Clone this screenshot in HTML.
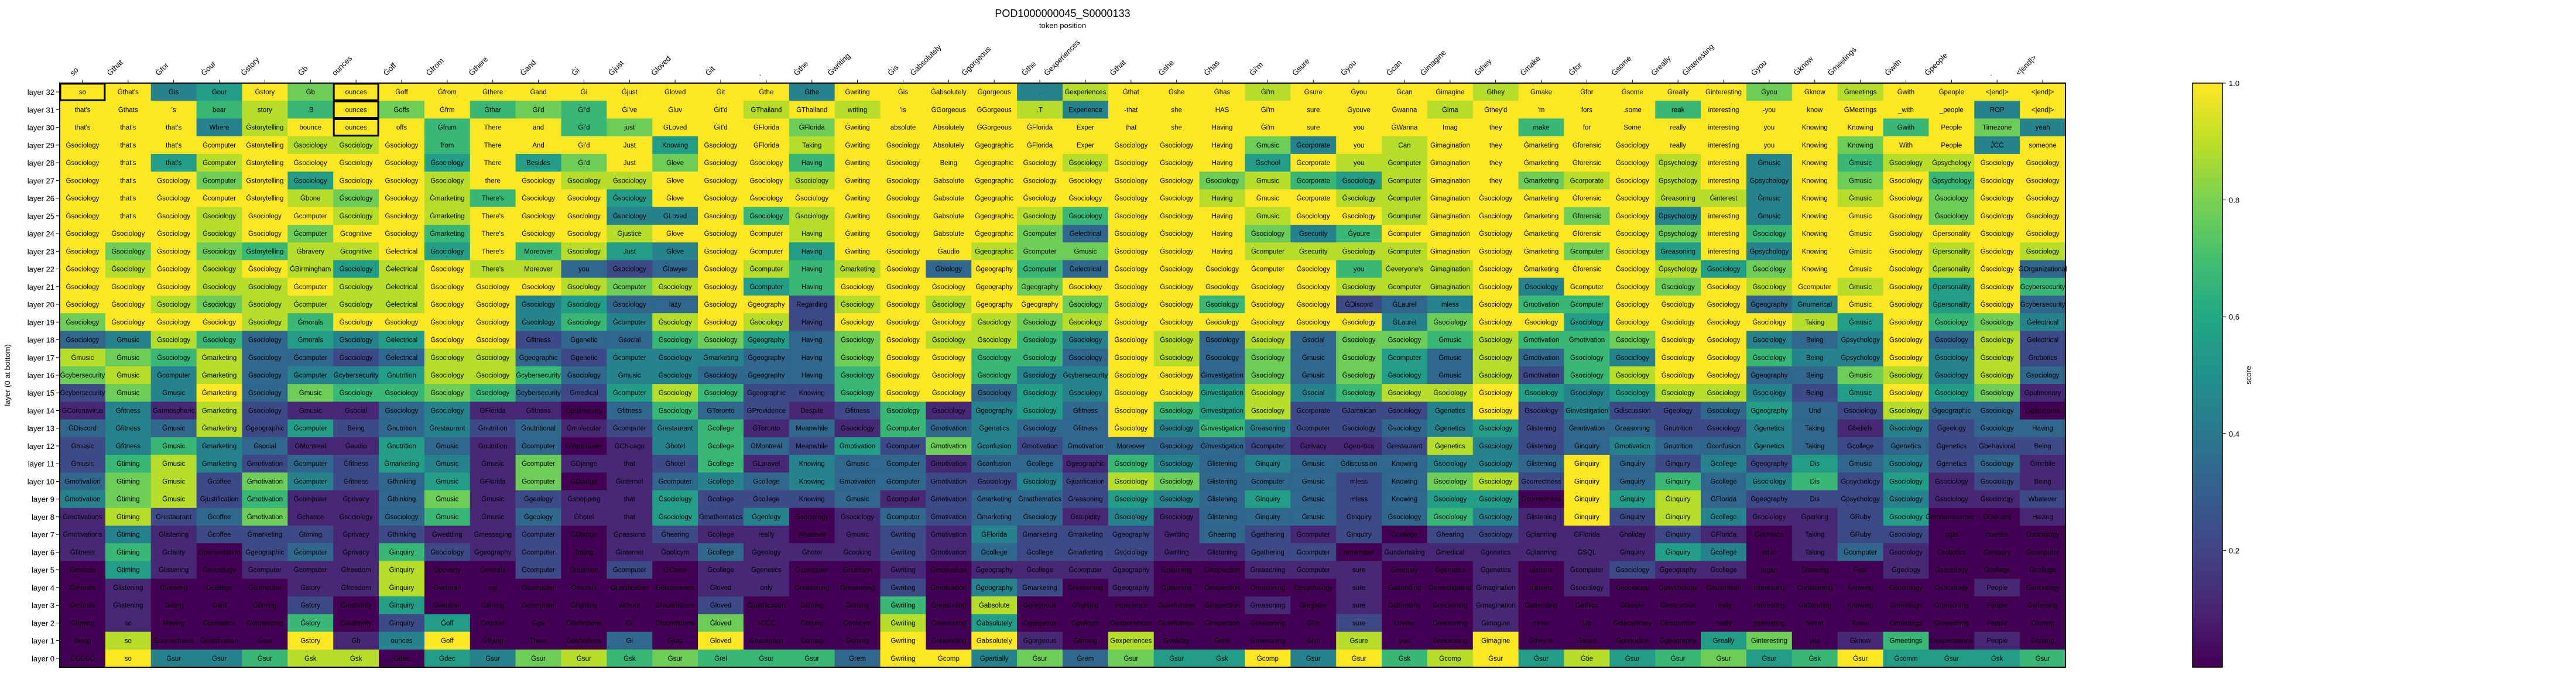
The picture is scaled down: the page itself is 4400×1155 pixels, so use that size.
<!DOCTYPE html>
<html><head><meta charset="utf-8"><title>POD1000000045_S0000133</title>
<style>
html,body{margin:0;padding:0;background:#fff;}
svg{display:block;font-family:"Liberation Sans","DejaVu Sans",sans-serif;}
</style></head>
<body>
<svg id="chart" xmlns="http://www.w3.org/2000/svg" width="4400" height="1155" viewBox="0 0 4400 1155">
<text x="1815" y="29" font-size="18" text-anchor="middle">POD1000000045_S0000133</text>
<text x="1815" y="48" font-size="13" text-anchor="middle">token position</text>
<text transform="translate(17,641) rotate(-90)" font-size="13" text-anchor="middle">layer (0 at bottom)</text>
<g id="cells"></g>
<g id="xticks"></g>
<g id="yticks"></g>
<g id="cbar"></g>
</svg>
<script>
const S = "Ġsociology";
const tokens = ["so","Ġthat","Ġfor","Ġour","Ġstory","Ġb","ounces","Ġoff","Ġfrom","Ġthere","Ġand","Ġi","Ġjust","Ġloved","Ġit",".","Ġthe","Ġwriting","Ġis","Ġabsolutely","Ġgorgeous","Ġthe","Ġexperiences","Ġthat","Ġshe","Ġhas","Ġi'm","Ġsure","Ġyou","Ġcan","Ġimagine","Ġthey","Ġmake","Ġfor","Ġsome","Ġreally","Ġinteresting","Ġyou","Ġknow","Ġmeetings","Ġwith","Ġpeople",".","<|end|>"];
const layerLabels = ["layer 32","layer 31","layer 30","layer 29","layer 28","layer 27","layer 26","layer 25","layer 24","layer 23","layer 22","layer 21","layer 20","layer 19","layer 18","layer 17","layer 16","layer 15","layer 14","layer 13","layer 12","layer 11","layer 10","layer 9","layer 8","layer 7","layer 6","layer 5","layer 4","layer 3","layer 2","layer 1","layer 0"];
const cbTicks = [0.2,0.4,0.6,0.8,1.0];
// score levels 0..9 (score = level/9), rows from layer 32 down to layer 0
const scoreLevels = [
[9,9,4,5,9,7,9,9,9,9,9,9,9,9,9,9,4,9,9,9,9,4,8,9,9,9,8,9,9,9,9,8,9,9,9,9,9,7,9,8,9,9,9,9],
[9,9,9,6,8,6,9,7,9,6,7,6,9,9,9,8,9,8,9,9,9,8,4,9,9,9,9,9,9,9,8,9,9,9,9,6,9,9,9,9,9,9,4,9],
[9,9,9,4,8,9,9,9,6,9,9,6,7,9,9,9,7,9,9,9,9,9,9,9,9,9,9,9,9,9,9,9,6,9,9,9,9,9,9,9,6,9,7,4],
[9,9,9,9,9,8,8,9,6,9,9,9,9,5,9,9,8,9,9,9,9,9,9,9,9,9,7,4,9,8,9,9,9,9,9,9,9,9,9,7,9,9,4,9],
[9,9,5,8,9,9,9,9,5,9,5,7,9,7,9,9,6,9,9,9,9,9,8,9,9,9,5,9,8,8,9,9,9,9,9,8,9,4,9,6,8,8,9,9],
[9,9,9,7,9,5,9,9,8,9,9,8,8,9,9,9,8,9,9,9,9,9,9,9,9,7,8,6,5,8,9,9,7,8,9,8,9,4,9,7,9,6,9,9],
[9,9,9,9,9,8,7,9,8,6,9,9,5,9,9,9,9,9,9,9,9,9,9,9,9,8,9,9,8,8,9,9,9,9,9,8,8,4,9,8,9,7,9,9],
[9,9,9,8,9,9,8,9,8,9,9,9,4,4,9,6,8,9,9,9,9,8,6,9,9,9,8,9,9,8,9,9,9,7,9,4,9,4,9,9,9,7,9,9],
[9,9,9,8,9,7,9,9,6,9,9,9,8,9,9,9,8,9,9,9,9,7,3,9,9,9,7,4,6,9,9,9,9,9,9,7,9,6,9,9,9,9,9,9],
[9,7,9,7,6,8,8,9,5,9,6,8,5,4,9,9,5,9,9,9,8,7,7,9,9,9,8,8,8,8,9,9,9,7,9,5,9,4,9,9,9,8,9,8],
[9,8,9,8,9,8,5,8,9,8,8,3,2,3,9,8,6,8,9,3,9,6,3,9,9,9,9,9,6,8,8,9,9,9,9,8,5,7,9,9,9,8,9,3],
[9,9,9,8,8,9,8,8,9,9,9,8,7,8,9,5,6,9,9,9,9,7,9,9,9,9,9,9,8,8,8,9,4,9,9,7,9,8,9,8,9,5,9,6],
[9,9,8,7,8,8,8,8,9,9,4,5,3,3,9,9,2,8,9,8,9,9,7,9,9,6,9,9,2,3,4,9,6,6,9,9,9,3,4,9,9,5,9,3],
[7,9,9,9,8,6,9,9,9,9,4,6,4,8,9,8,2,9,9,9,8,7,8,9,9,9,9,9,9,4,7,9,9,5,9,9,9,9,8,5,9,6,7,4],
[3,4,8,6,3,5,4,5,9,9,2,3,3,6,7,5,3,7,9,8,8,6,4,9,8,3,8,3,7,7,6,8,6,6,7,9,9,4,3,4,9,3,8,2],
[8,7,6,8,3,3,2,3,8,8,3,2,4,4,4,3,3,7,9,9,6,6,3,9,8,3,7,3,7,5,3,8,3,6,4,9,9,6,4,4,9,4,8,2],
[7,8,4,8,3,4,4,5,8,8,6,3,4,4,3,3,3,6,9,9,6,4,4,9,9,3,7,3,7,5,3,8,2,6,8,9,9,3,3,7,8,4,8,3],
[2,7,4,9,3,7,6,6,7,6,3,2,5,8,6,2,2,6,9,9,3,5,4,9,9,5,8,4,6,8,8,9,5,4,5,8,8,4,2,5,9,5,7,1],
[1,4,1,8,2,1,1,3,4,1,1,0,3,6,3,2,1,2,6,1,4,5,3,9,6,5,8,2,2,2,4,9,2,4,2,2,3,5,3,2,8,3,3,0],
[3,4,3,8,2,5,2,3,4,2,3,1,2,4,6,1,3,1,6,3,4,3,3,9,4,6,4,2,2,3,4,5,2,3,3,2,2,4,3,1,4,2,3,3],
[2,4,6,4,3,1,1,5,3,1,3,0,1,4,6,3,2,5,2,7,4,2,3,3,3,3,2,1,1,2,8,4,2,3,4,3,3,4,3,2,3,2,2,2],
[2,6,8,4,2,3,2,5,4,1,7,1,1,2,6,1,4,3,3,1,3,3,1,6,4,3,4,3,3,3,4,4,3,9,3,2,4,2,5,3,4,2,3,1],
[3,7,8,2,7,4,2,3,5,1,7,0,1,3,4,3,4,3,3,2,2,4,2,8,7,3,3,3,2,3,7,8,2,9,3,6,3,4,6,2,5,1,2,1],
[4,7,8,2,6,1,1,3,7,1,2,1,1,5,2,2,2,3,1,2,3,3,2,5,4,3,5,3,2,3,5,5,0,9,5,8,3,2,2,2,4,1,1,2],
[1,8,2,3,7,1,1,3,6,1,3,1,1,5,2,4,0,1,3,2,3,3,1,4,1,3,3,3,2,3,6,4,1,9,2,8,4,1,1,2,5,0,0,1],
[1,4,1,2,2,2,1,2,1,1,2,0,1,2,1,1,0,1,2,1,4,2,2,2,1,3,2,1,2,0,2,2,1,1,1,2,1,0,1,2,2,0,0,0],
[1,6,1,0,2,3,1,6,2,1,2,0,1,1,3,1,1,1,2,1,3,2,2,2,1,1,2,2,0,1,1,1,1,1,1,5,4,0,1,3,1,0,0,0],
[0,5,1,0,1,1,1,8,0,0,2,0,2,0,1,1,0,0,1,0,1,1,1,1,0,0,1,1,1,0,0,1,0,1,2,1,1,0,0,0,1,0,0,0],
[0,1,0,0,0,1,1,8,0,0,0,0,0,0,1,1,0,0,2,0,4,2,0,1,0,0,0,0,1,0,0,1,0,1,0,0,0,0,0,0,0,0,1,0],
[0,1,0,0,0,2,0,5,0,0,0,0,0,0,2,0,0,0,6,0,8,0,0,0,0,0,1,0,1,0,0,1,0,0,0,0,0,0,0,0,0,0,0,0],
[0,1,0,0,0,6,0,2,5,0,0,0,0,0,7,0,0,0,8,0,5,0,0,0,0,0,0,0,2,0,0,1,0,0,0,0,0,0,0,0,0,0,0,0],
[0,8,0,0,0,9,1,4,9,0,0,0,3,0,9,0,0,0,9,0,9,1,0,8,0,0,0,0,8,0,0,9,0,0,0,0,5,7,0,1,6,0,1,0],
[0,9,4,4,6,8,8,0,5,4,7,8,6,7,6,6,6,3,9,9,4,7,3,7,5,5,9,4,9,6,8,9,5,8,5,6,7,5,6,9,5,5,5,6]
];
const cellTexts = [
["so","Ġthat's","Ġis","Ġour","Ġstory","Ġb","ounces","Ġoff","Ġfrom","Ġthere","Ġand","Ġi","Ġjust","Ġloved","Ġit","Ġthe","Ġthe","Ġwriting","Ġis","Ġabsolutely","Ġgorgeous",".","Ġexperiences","Ġthat","Ġshe","Ġhas","Ġi'm","Ġsure","Ġyou","Ġcan","Ġimagine","Ġthey","Ġmake","Ġfor","Ġsome","Ġreally","Ġinteresting","Ġyou","Ġknow","Ġmeetings","Ġwith","Ġpeople","<|end|>","<|end|>"],
["that's","Ġthats","'s","bear","story",".B","ounces","Ġoffs","Ġfrm","Ġthar","Ġi'd","Ġi'd","Ġi've","Ġluv","Ġit'd","ĠThailand","ĠThailand","writing","'is","ĠGorgeous","ĠGorgeous",".T","Experience","-that","she","HAS","Ġi'm","sure","Ġyouve","Ġwanna","Ġima","Ġthey'd","'m","fors",".some","reak","interesting","-you","know","ĠMeetings","_with","_people","ROP","<|end|>"],
["that's","that's","that's","Where","Ġstorytelling","bounce","ounces","offs","Ġfrum","There","and","Ġi'd","just","ĠLoved","Ġit'd","ĠFlorida","ĠFlorida","Ġwriting","absolute","Absolutely","ĠGorgeous","ĠFlorida","Exper","that","she","Having","Ġi'm","sure","you","ĠWanna","Imag","they","make","for","Some","really","interesting","you","Knowing","Knowing","Ġwith","People","Timezone","yeah"],
[S,"that's","that's","Ġcomputer","Ġstorytelling",S,S,S,"from","There","And","Ġi'd","Just","Knowing",S,"ĠFlorida","Taking","Ġwriting",S,"Absolutely","Ġgeographic","ĠFlorida","Exper",S,S,"Having","Ġmusic","Ġcorporate","you","Can","Ġimagination","they","Ġmarketing","Ġforensic",S,"really","interesting","you","Knowing","Knowing","With","People","ĴĊĊ","someone"],
[S,"that's","that's","Ġcomputer","Ġstorytelling",S,S,S,S,"There","Besides","Ġi'd","Just","Ġlove",S,S,"Having","Ġwriting",S,"Being","Ġgeographic",S,S,S,S,"Having","Ġschool","Ġcorporate","you","Ġcomputer","Ġimagination","they","Ġmarketing","Ġforensic",S,"Ġpsychology","interesting","Ġmusic","Knowing","Ġmusic",S,"Ġpsychology",S,S],
[S,"that's",S,"Ġcomputer","Ġstorytelling",S,S,S,S,"there",S,S,S,"Ġlove",S,S,S,"Ġwriting",S,"Ġabsolute","Ġgeographic",S,S,S,S,S,"Ġmusic","Ġcorporate",S,"Ġcomputer","Ġimagination","they","Ġmarketing","Ġcorporate",S,"Ġpsychology","interesting","Ġpsychology","Knowing","Ġmusic",S,"Ġpsychology",S,S],
[S,"that's",S,"Ġcomputer","Ġstorytelling","Ġbone",S,S,"Ġmarketing","There's",S,S,S,"Ġlove",S,S,S,"Ġwriting",S,"Ġabsolute","Ġgeographic",S,S,S,S,"Having","Ġmusic","Ġcorporate",S,"Ġcomputer","Ġimagination",S,"Ġmarketing","Ġforensic",S,"Ġreasoning","Ġinterest","Ġmusic","Knowing","Ġmusic",S,S,S,S],
[S,"that's",S,S,S,"Ġcomputer",S,S,"Ġmarketing","There's",S,S,S,"ĠLoved",S,S,S,"Ġwriting",S,"Ġabsolute","Ġgeographic",S,S,S,S,"Having","Ġmusic",S,S,"Ġcomputer","Ġimagination",S,"Ġmarketing","Ġforensic",S,"Ġpsychology","interesting","Ġmusic","Knowing","Ġmusic",S,S,S,S],
[S,S,S,S,S,"Ġcomputer","Ġcognitive",S,"Ġmarketing","There's",S,S,"Ġjustice","Ġlove",S,"Ġcomputer","Having","Ġwriting",S,"Ġabsolute","Ġgeographic","Ġcomputer","Ġelectrical",S,S,"Having",S,"Ġsecurity","Ġyoure","Ġcomputer","Ġimagination",S,"Ġmarketing","Ġforensic",S,"Ġpsychology","interesting",S,"Knowing","Ġmusic",S,"Ġpersonality",S,S],
[S,S,S,S,"Ġstorytelling","Ġbravery","Ġcognitive","Ġelectrical",S,"There's","Moreover",S,"Just","Ġlove",S,"Ġcomputer","Having","Ġwriting",S,"Ġaudio","Ġgeographic","Ġcomputer","Ġmusic",S,S,"Having","Ġcomputer","Ġsecurity",S,"Ġcomputer","Ġimagination",S,"Ġmarketing","Ġcomputer",S,"Ġreasoning","interesting","Ġpsychology","Knowing","Ġmusic",S,"Ġpersonality",S,S],
[S,S,S,S,S,"ĠBirmingham",S,"Ġelectrical",S,"There's","Moreover","you",S,"Ġlawyer",S,"Ġcomputer","Having","Ġmarketing",S,"Ġbiology","Ġgeography","Ġcomputer","Ġelectrical",S,S,S,"Ġcomputer",S,"you","Ġeveryone's","Ġimagination",S,"Ġmarketing","Ġforensic",S,"Ġpsychology",S,S,"Knowing","Ġmusic",S,"Ġpersonality",S,"ĠOrganizational"],
[S,S,S,S,S,"Ġcomputer",S,"Ġelectrical",S,S,S,S,"Ġcomputer",S,S,"Ġcomputer","Having",S,S,S,"Ġgeography","Ġgeography",S,S,S,S,S,S,S,"Ġcomputer","Ġimagination",S,S,"Ġcomputer",S,S,S,S,"Ġcomputer","Ġmusic",S,"Ġpersonality",S,"Ġcybersecurity"],
[S,S,S,S,S,"Ġcomputer",S,"Ġelectrical",S,S,S,S,S,"lazy",S,"Ġgeography","Regarding",S,S,S,"Ġgeography","Ġgeography",S,S,S,S,S,S,"ĠDiscord","ĠLaurel","mless",S,"Ġmotivation","Ġcomputer",S,S,S,"Ġgeography","Ġnumerical","Ġmusic",S,"Ġpersonality",S,"Ġcybersecurity"],
[S,S,S,S,S,"Ġmorals",S,S,S,S,S,S,"Ġcomputer",S,S,S,"Having",S,S,S,S,S,S,S,S,S,S,S,S,"ĠLaurel",S,S,S,S,S,S,S,S,"Taking","Ġmusic",S,S,S,"Ġelectrical"],
[S,"Ġmusic",S,S,S,"Ġmorals",S,"Ġelectrical",S,S,"Ġfitness","Ġgenetic","Ġsocial",S,S,"Ġgeography","Having",S,S,S,S,S,S,S,S,S,S,"Ġsocial",S,S,"Ġmusic",S,"Ġmotivation","Ġmotivation",S,S,S,S,"Being","Ġpsychology",S,S,S,"Ġelectrical"],
["Ġmusic","Ġmusic",S,"Ġmarketing",S,"Ġcomputer",S,"Ġelectrical",S,S,"Ġgeographic","Ġgenetic","Ġcomputer",S,"Ġmarketing","Ġgeography","Having",S,S,S,S,S,S,S,S,S,S,"Ġmusic",S,"Ġcomputer","Ġmusic",S,"Ġmotivation",S,S,S,S,S,"Being","Ġpsychology",S,S,S,"Ġrobotics"],
["Ġcybersecurity","Ġmusic","Ġcomputer","Ġmarketing",S,"Ġcomputer","Ġcybersecurity","Ġnutrition",S,S,"Ġcybersecurity",S,"Ġmusic",S,S,"Ġgeography","Having",S,S,S,S,S,"Ġcybersecurity",S,S,"Ġinvestigation",S,"Ġmusic",S,S,"Ġmusic",S,"Ġmotivation",S,S,S,S,"Ġgeography","Being","Ġmusic",S,S,S,S],
["Ġcybersecurity","Ġmusic","Ġmusic","Ġmarketing",S,"Ġmusic",S,S,S,S,"Ġcybersecurity","Ġmedical","Ġcomputer",S,S,"Ġgeographic","Knowing",S,S,S,S,S,S,S,S,"Ġinvestigation",S,"Ġsocial",S,S,S,S,S,S,S,S,S,S,"Being","Ġmusic",S,S,S,"Ġpulmonary"],
["ĠCoronavirus","Ġfitness","Ġatmospheric","Ġmarketing",S,"Ġmusic","Ġsocial",S,S,"ĠFlorida","Ġfitness","Ġpulmonary","Ġfitness",S,"ĠToronto","ĠProvidence","Despite","Ġfitness",S,S,"Ġgeography",S,"Ġfitness",S,S,"Ġinvestigation",S,"Ġcorporate","ĠJamaican",S,"Ġgenetics",S,S,"Ġinvestigation","Ġdiscussion","Ġgeology",S,"Ġgeography","Und",S,S,"Ġgeographic",S,"Ġglaucoma"],
["ĠDiscord","Ġfitness","Ġmusic","Ġmarketing","Ġgeographic","Ġcomputer","Being","Ġnutrition","Ġrestaurant","Ġnutrition","Ġnutritional","Ġmolecular","Ġcomputer","Ġrestaurant","Ġcollege","ĠToronto","Meanwhile",S,"Ġcomputer","Ġmotivation","Ġgenetics",S,"Ġfitness",S,S,"Ġinvestigation","Ġreasoning","Ġcomputer",S,S,"Ġgenetics",S,"Ġlistening","Ġmotivation","Ġreasoning","Ġnutrition",S,"Ġgenetics","Taking","Ġbeliefs",S,"Ġgeology",S,"Having"],
["Ġmusic","Ġfitness","Ġmusic","Ġmarketing","Ġsocial","ĠMontreal","Ġaudio","Ġnutrition","Ġmusic","Ġnutrition","Ġcomputer","ĠVancouver","ĠChicago","Ġhotel","Ġcollege","ĠMontreal","Meanwhile","Ġmotivation","Ġcomputer","Ġmotivation","Ġconfusion","Ġmotivation","Ġmotivation","Moreover",S,"Ġinvestigation","Ġcomputer","Ġprivacy","Ġgenetics","Ġrestaurant","Ġgenetics",S,"Ġlistening","Ġinquiry","Ġmotivation","Ġnutrition","Ġconfusion","Ġgenetics","Taking","Ġcollege","Ġgenetics","Ġgenetics","Ġbehavioral","Being"],
["Ġmusic","Ġtiming","Ġmusic","Ġmarketing","Ġmotivation","Ġcomputer","Ġfitness","Ġmarketing","Ġmusic","Ġmusic","Ġcomputer","ĠDjango","that","Ġhotel","Ġcollege","ĠLaravel","Knowing","Ġmusic","Ġcomputer","Ġmotivation","Ġconfusion","Ġcollege","Ġgeographic",S,S,"Ġlistening","Ġinquiry","Ġmusic","Ġdiscussion","Knowing",S,S,"Ġlistening","Ġinquiry","Ġinquiry","Ġinquiry","Ġcollege","Ġgeography","Dis","Ġmusic",S,"Ġgenetics",S,"Ġmobile"],
["Ġmotivation","Ġtiming","Ġmusic","Ġcoffee","Ġmotivation","Ġcomputer","Ġfitness","Ġthinking","Ġmusic","ĠFlorida","Ġcomputer","ĠDjango","Ġinternet","Ġcomputer","Ġcollege","Ġcollege","Knowing","Ġmotivation","Ġcomputer","Ġmotivation",S,S,"Ġjustification",S,S,"Ġlistening","Ġcomputer","Ġmusic","mless","Knowing",S,S,"Ġcorrectness","Ġinquiry","Ġinquiry","Ġinquiry","Ġcollege",S,"Dis","Ġpsychology",S,S,S,"Being"],
["Ġmotivation","Ġtiming","Ġmusic","Ġjustification","Ġmotivation","Ġcomputer","Ġprivacy","Ġthinking","Ġmusic","Ġmusic","Ġgeology","Ġshopping","that",S,"Ġcollege","Ġcollege","Knowing","Ġmusic","Ġcomputer","Ġmotivation","Ġmarketing","Ġmathematics","Ġreasoning",S,S,"Ġlistening","Ġinquiry","Ġmusic","mless","Knowing",S,S,"Ġcorrectness","Ġinquiry","Ġinquiry","Ġinquiry","ĠFlorida","Ġgeography","Dis","Ġpsychology",S,S,S,"Whatever"],
["Ġmotivations","Ġtiming","Ġrestaurant","Ġcoffee","Ġmotivation","Ġchance",S,S,"Ġmusic","Ġmusic","Ġgeology","Ġhotel","that",S,"Ġmathematics","Ġgeology",S,S,"Ġcomputer","Ġmotivation","Ġmarketing",S,"Ġstupidity",S,S,"Ġlistening","Ġinquiry","Ġmusic","Ġinquiry",S,S,S,"Ġlistening","Ġinquiry","Ġinquiry","Ġinquiry","Ġcollege",S,"Ġparking","ĠRuby",S,"Ġembarrassment","ĠDiscord","Having"],
["Ġmotivations","Ġtiming","Ġlistening","Ġcoffee","Ġmarketing","Ġtiming","Ġprivacy","Ġthinking","Ġwedding","Ġmessaging","Ġcomputer","ĠDjango","Ġpassions","Ġhearing","Ġcollege","really","Whatever","Ġmusic","Ġwriting","Ġmotivation","ĠFlorida","Ġmarketing","Ġmarketing","Ġgeography","Ġwriting","Ġhearing","Ġgathering","Ġcomputer","Ġinquiry","Ġcollege","Ġhearing",S,"Ġplanning","ĠFlorida","Ġholiday","Ġinquiry","ĠFlorida","Ġjamaica","Taking","ĠRuby",S,"ogat","queeze",S],
["Ġfitness","Ġtiming","Ġclarity","Ġpresentation","Ġgeographic","Ġcomputer","Ġprivacy","Ġinquiry",S,"Ġgeography","Ġcomputer","Taking","Ġinternet","Ġpolicym","Ġcollege","Ġgeology","Ġhotel","Ġcooking","Ġwriting","Ġmotivation","Ġcollege","Ġcollege","Ġmarketing",S,"Ġwriting","Ġlistening","Ġgathering","Ġcomputer","remember","Ġundertaking","Ġmedical","Ġgenetics","Ġplanning","ĠSQL","Ġinquiry","Ġinquiry","Ġcollege","educ","Taking","Ġcomputer",S,"Ġrobotics","Ġenquiry","Ġcomputer"],
["Ġmorals","Ġtiming","Ġlistening",S,"Ġcomputer","Ġcomputer","Ġfreedom","Ġinquiry","Ġpoverty","Ġmorals","Ġcomputer","Ġnutrition","Ġcomputer","ĠChina","Ġcollege","Ġgenetics","Ġcomputer","Ġnutrition","Ġwriting","Ġmotivation","Ġgeography","Ġcollege","Ġcomputer","Ġgeography","Ġplanning","Ġinspection","Ġreasoning","Ġcomputer","sure","Ġenquiry","Ġgenetics","Ġgenetics","ulations","Ġcomputer",S,"Ġgeography","Ġcollege","organ","Ġhearing","Fear","Ġgeology",S,"Ġcollege","Ġcollege"],
["Ġmorals","Ġlistening","Ġviewing","Ġcollege","Ġcomputer","Ġstory","Ġfreedom","Ġinquiry","Ġveteran","egl","Ġcomputer","Ġmorals","Ġjustification","Ġdiscoveries","Ġloved","only","Ġreasoning","Ġreasoning","Ġwriting","Ġmotivation","Ġgeography","Ġmarketing","Ġreasoning","Ġgeography","Ġplanning","Ġinspection","Ġreasoning","Ġpsychology","sure","Ġattending","Ġinvestigating","Ġimagination","ulations",S,S,"Ġpsychology","ĠAustralian","interesting","Considering","Knowing",S,S,"People",S],
["Ġmorals","Ġlistening","Taking","Gant","Ġtiming","Ġstory","Ġauthority","Ġinquiry","Ġveteran","Ġtiming","Ġcomputer","Ġlighting","without","Ġfoundations","Ġloved","Ġjustification","Ġtiming","Ġtiming","Ġwriting","Ġreasoning","Ġabsolute","Ġgorgeous","Ġlighting","experience","Ġusefulness","Ġinspection","Ġreasoning","Ġregister","sure","Ġattending","Ġreasoning","Ġimagination","Ġattending","Ġethics","Ġlawyer","Ġinstruction","really","interesting","Ġattending","Knowing","Ġmeetings","Ġreasoning","People","Ġsleeping"],
["Ġtiming","so","Moving","Ġprejudice","Ġorganizing","Ġstory","Ġauthority","Ġinquiry","Ġoff","Ġrocket","Ġge","Ġdefinitions","Ġi","Ġfoundations","Ġloved",">ĊĊĊ","Ġtiming","Ġpolicym","Ġwriting","Ġreasoning","Ġabsolutely","Ġgorgeous","Ġpolicym","Ġexperiences","Ġusefulness","Ġinspection","Ġreasoning","Ġi'm","sure","Unless","Ġreasoning","Ġimagine","never","Up","Ġdisciplinary","Ġinstruction","really","interesting","Never","Know","Ġmeetings","Ġreasoning","People","Ġtiming"],
["Being","so","Ġcorrectness","Ġjustification","Ġour","Ġstory","Ġb","ounces","Ġoff","Ġflying","There","Ġdefinitions","Ġi","Ġjust","Ġloved","Ġexception","Ġtiming","Ġtiming","Ġwriting","Ġreasoning","Ġabsolutely","Ġgorgeous","Ġtiming","Ġexperiences","Ġvalidity","Ġshe","Ġreasoning","Ġi'm","Ġsure","you","Ġreasoning","Ġimagine","Ġthey're","Ġshell","Ġprejudice","Ġgeography","Ġreally","Ġinteresting","you","Ġknow","Ġmeetings","Ġexpectations","People","Ġtiming"],
["ĊĊĊĊĊ","so","Ġsur","Ġsur","Ġsur","Ġsk","Ġsk","Ġdec","Ġdec","Ġsur","Ġsur","Ġsur","Ġsk","Ġsur","Ġrel","Ġsur","Ġsur","Ġrem","Ġwriting","Ġcomp","Ġpartially","Ġsur","Ġrem","Ġsur","Ġsur","Ġsk","Ġcomp","Ġsur","Ġsur","Ġsk","Ġcomp","Ġsur","Ġsur","Ġtie","Ġsur","Ġsur","Ġsur","Ġsur","Ġsk","Ġsur","Ġcomm","Ġsur","Ġsk","Ġsur"]
];
// highlighted cells: [rowIndex (0 = layer 32), column]
const highlights = [[0,0],[0,6],[1,6],[2,6]];

const NS = "http://www.w3.org/2000/svg";
const X0 = 102, X1 = 3528, Y0 = 142, Y1 = 1140;
const nCols = tokens.length, nRows = layerLabels.length;
const cw = (X1 - X0) / nCols, rh = (Y1 - Y0) / nRows;
const xPos = c => X0 + c * cw;
const yPos = r => Y0 + r * rh;
const vir = [[68,1,84],[72,36,117],[65,68,135],[53,95,141],[42,120,142],[33,145,140],[34,168,132],[68,191,112],[122,209,81],[189,223,38],[253,231,37]];
function viridis(t){t=Math.max(0,Math.min(1,t));const p=t*10,i=Math.min(9,Math.floor(p)),f=p-i;const a=vir[i],b=vir[i+1];return "rgb("+a.map((v,k)=>Math.round(v+(b[k]-v)*f)).join(",")+")";}
function mk(tag, attrs, parent){const e=document.createElementNS(NS,tag);for(const k in attrs)e.setAttribute(k,attrs[k]);parent.appendChild(e);return e;}

const cells = document.getElementById("cells");
for (let r = 0; r < nRows; r++) {
  for (let c = 0; c < nCols; c++) {
    const score = scoreLevels[r][c] / 9;
    const rect = mk("rect", {x: xPos(c), y: yPos(r), width: cw + 0.6, height: rh + 0.6, fill: viridis(score)}, cells);
    
    
    const t = mk("text", {x: xPos(c) + cw / 2, y: yPos(r) + rh / 2 + 4, "font-size": 11.5, "text-anchor": "middle", fill: "#000"}, cells);
    
    
    t.textContent = cellTexts[r][c];
  }
}
const frame = mk("rect", {x: X0, y: Y0, width: X1 - X0, height: Y1 - Y0, fill: "none", stroke: "#000", "stroke-width": 2}, cells);


highlights.forEach(h => {
  const b = mk("rect", {x: xPos(h[1]) + 1, y: yPos(h[0]) + 1, width: cw - 2, height: rh - 2, fill: "none", stroke: "#000", "stroke-width": 3}, cells);
  
  
});

const xt = document.getElementById("xticks");
tokens.forEach((tok, c) => {
  const cx = xPos(c) + cw / 2;
  const tk = mk("line", {x1: cx, x2: cx, y1: Y0 - 6, y2: Y0, stroke: "#000", "stroke-width": 1}, xt);
  
  
  // estimated rendered length (13px Liberation Sans ~7px per char)
  const L = tok.length * 7;
  const d = L / Math.SQRT2;
  const t = mk("text", {transform: "translate(" + (cx - 6 - d) + "," + (Y0 - 12) + ") rotate(-45)", "font-size": 13, "text-anchor": "start", fill: "#000"}, xt);
  
  
  t.textContent = tok;
});

const yt = document.getElementById("yticks");
layerLabels.forEach((lab, r) => {
  const cy = yPos(r) + rh / 2;
  const tk = mk("line", {x1: X0 - 6, x2: X0, y1: cy, y2: cy, stroke: "#000", "stroke-width": 1}, yt);
  
  
  const t = mk("text", {x: X0 - 9, y: cy + 5, "font-size": 13, "text-anchor": "end", fill: "#000"}, yt);
  
  
  t.textContent = lab;
});

const cb = document.getElementById("cbar");
const CBX = 3745, CBW = 51;
const defs = mk("defs", {}, cb);
const grad = mk("linearGradient", {id: "vgrad", x1: 0, y1: 1, x2: 0, y2: 0}, defs);
for (let i = 0; i <= 10; i++) mk("stop", {offset: (i * 10) + "%", "stop-color": viridis(i / 10)}, grad);
const cbr = mk("rect", {x: CBX, y: Y0, width: CBW, height: Y1 - Y0, fill: "url(#vgrad)", stroke: "#000", "stroke-width": 1.5}, cb);


const cbY = v => Y1 - v * (Y1 - Y0);
cbTicks.forEach(v => {
  const tk = mk("line", {x1: CBX + CBW, x2: CBX + CBW + 6, y1: cbY(v), y2: cbY(v), stroke: "#000", "stroke-width": 1}, cb);
  
  
  const t = mk("text", {x: CBX + CBW + 11, y: cbY(v) + 5, "font-size": 13, fill: "#000"}, cb);
  
  
  t.textContent = v.toFixed(1);
});
const cbl = mk("text", {transform: "translate(3845," + ((Y0 + Y1) / 2) + ") rotate(-90)", "font-size": 13, "text-anchor": "middle", fill: "#000"}, cb);


cbl.textContent = "score";
</script>
</body></html>
